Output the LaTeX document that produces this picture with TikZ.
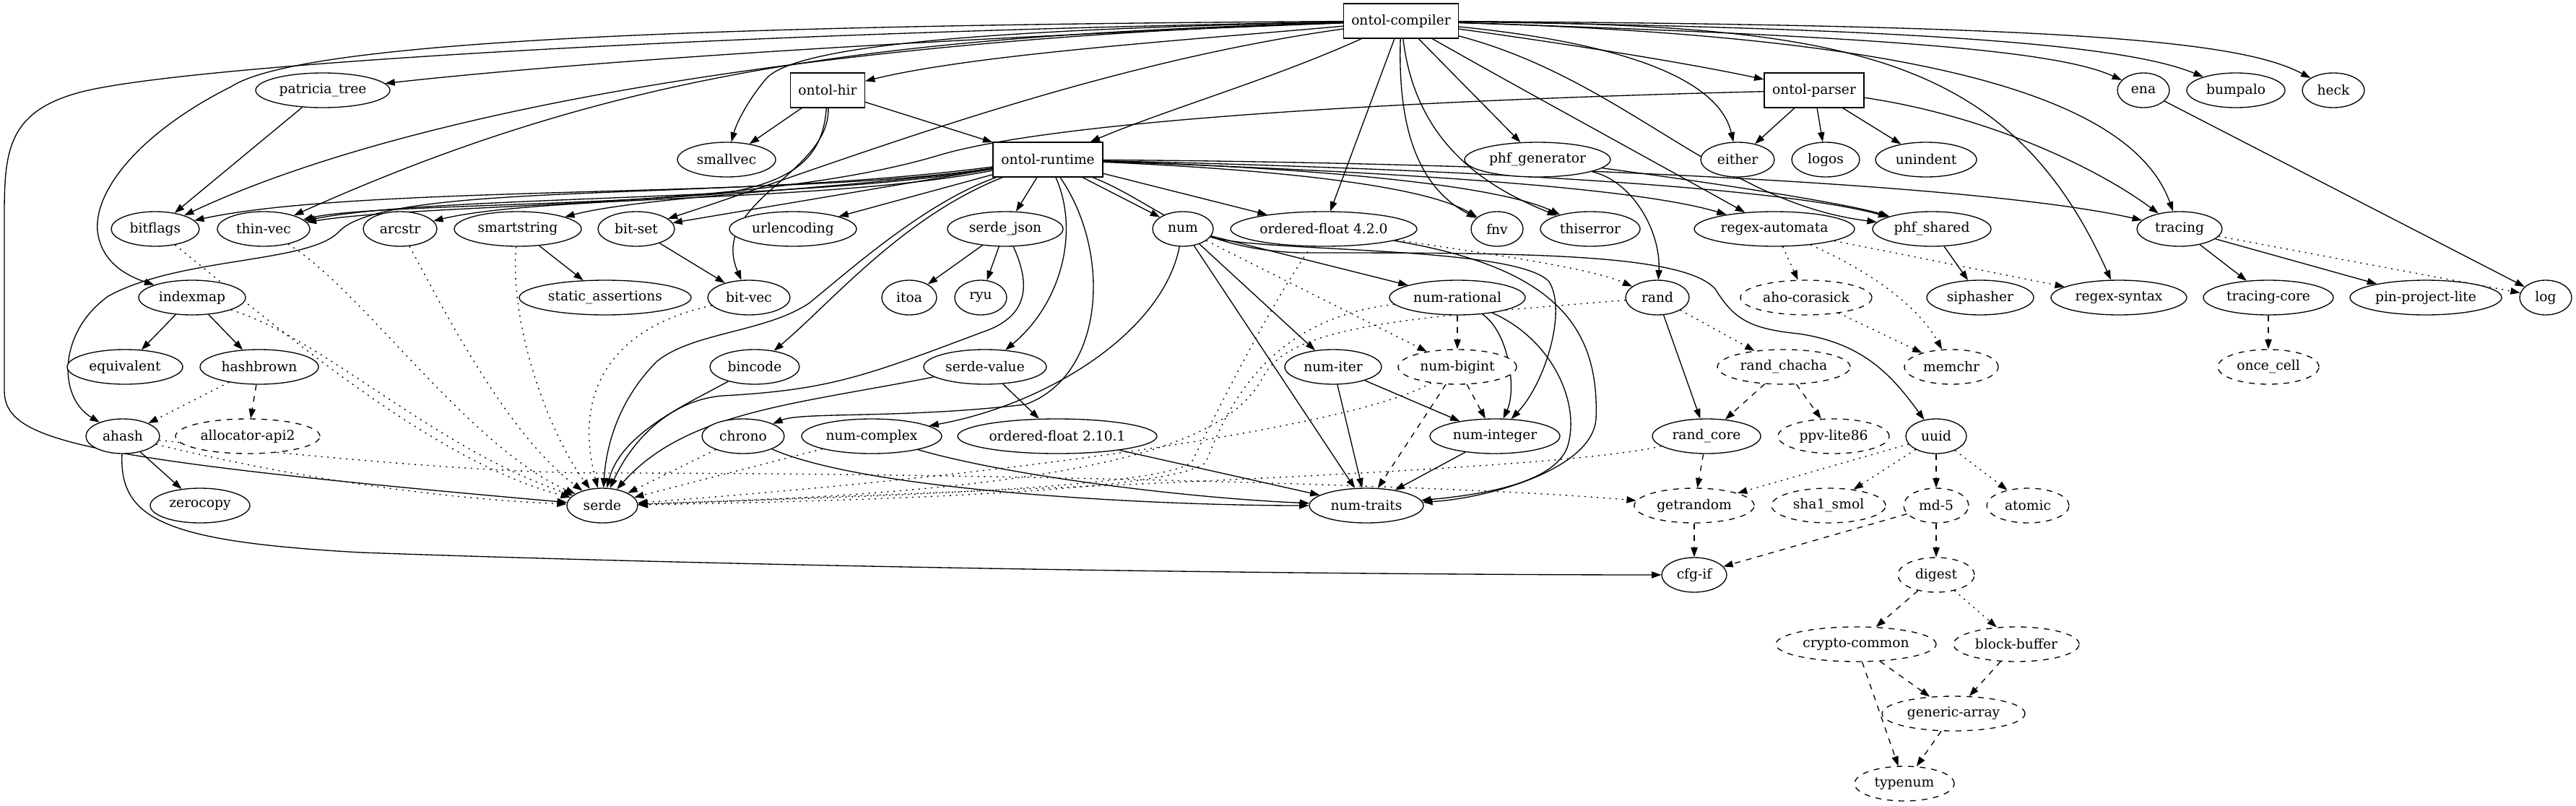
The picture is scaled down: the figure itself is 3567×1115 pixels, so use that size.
\documentclass[tikz,border=0pt]{standalone}
\usepackage{fontspec}
\setmainfont{DejaVu Serif}
\usetikzlibrary{shapes.geometric,arrows.meta}
\pgfdeclarelayer{background}
\pgfsetlayers{background,main}
\begin{document}
\begin{tikzpicture}[x=0.75pt,y=-0.75pt,
  every node/.style={font=\fontsize{14pt}{16pt}\selectfont},
  el/.style={ellipse,draw,fill=white,line width=1pt,minimum height=36pt,inner sep=0pt},
  dn/.style={el,dash pattern=on 6pt off 6pt},
  bx/.style={rectangle,draw,fill=white,line width=1pt,minimum height=36pt,inner sep=0pt},
  wd/.style={minimum width=#1*1.5pt},
  dep/.style={draw,line width=1pt,-{Triangle[length=10pt,width=7pt]}},
  dot/.style={dep,dash pattern=on 1.5pt off 5pt},
  dsh/.style={dep,dash pattern=on 6pt off 6pt},
]
\useasboundingbox (0,0) rectangle (3567,1115);

% rank 0
\node[bx,minimum width=119pt] (compiler) at (1940,29) {ontol-compiler};
% rank 1
\node[el,wd=93] (patricia) at (447,125) {patricia\_tree};
\node[bx,minimum width=77pt] (hir) at (1146,125) {ontol-hir};
\node[bx,minimum width=103.5pt] (parser) at (2512,125) {ontol-parser};
\node[el,wd=36] (ena) at (2968,125) {ena};
\node[el,wd=68] (bumpalo) at (3096,125) {bumpalo};
\node[el,wd=43] (heck) at (3231,125) {heck};
% rank 2
\node[el,wd=68] (smallvec) at (1006,221) {smallvec};
\node[bx,minimum width=114pt] (runtime) at (1451,221) {ontol-runtime};
\node[el,wd=101] (phfgen) at (2129,221) {phf\_generator};
\node[el,wd=51] (either) at (2406,221) {either};
\node[el,wd=47] (logos) at (2528,221) {logos};
\node[el,wd=70] (unindent) at (2667,221) {unindent};
% rank 3
\node[el,wd=61] (bitflags) at (215,317) {bitflags};
\node[el,wd=64] (thinvec) at (365,317) {thin-vec};
\node[el,wd=51] (arcstr) at (554,317) {arcstr};
\node[el,wd=88] (smartstring) at (717,317) {smartstring};
\node[el,wd=53] (bitset) at (881,317) {bit-set};
\node[el,wd=88] (urlencoding) at (1098,317) {urlencoding};
\node[el,wd=80] (serdejson) at (1392,317) {serde\_json};
\node[el,wd=42] (num) at (1638,317) {num};
\node[el,wd=129] (of4) at (1833,317) {ordered-float 4.2.0};
\node[el,wd=36] (fnv) at (2073,317) {fnv};
\node[el,wd=69] (thiserror) at (2202,317) {thiserror};
\node[el,wd=111] (regexaut) at (2457,317) {regex-automata};
\node[el,wd=82] (phfshared) at (2675,317) {phf\_shared};
\node[el,wd=59] (tracing) at (3018,317) {tracing};
% rank 4
\node[el,wd=74] (indexmap) at (266,412) {indexmap};
\node[el,wd=119] (staticassert) at (838,412) {static\_assertions};
\node[el,wd=57] (bitvec) at (1037,412) {bit-vec};
\node[el,wd=38] (itoa) at (1259,412) {itoa};
\node[el,wd=36] (ryu) at (1358,412) {ryu};
\node[el,wd=94] (numrational) at (2018,412) {num-rational};
\node[el,wd=44] (rand) at (2295,412) {rand};
\node[dn,wd=91] (aho) at (2501,412) {aho-corasick};
\node[el,wd=74] (siphasher) at (2742,412) {siphasher};
\node[el,wd=94] (regexsyntax) at (2934,412) {regex-syntax};
\node[el,wd=90] (tracingcore) at (3141,412) {tracing-core};
\node[el,wd=105] (pinproject) at (3359,412) {pin-project-lite};
\node[el,wd=36] (log) at (3525,412) {log};
% rank 5
\node[el,wd=80] (equivalent) at (173,508) {equivalent};
\node[el,wd=82] (hashbrown) at (359,508) {hashbrown};
\node[el,wd=62] (bincode) at (1045,508) {bincode};
\node[el,wd=85] (serdevalue) at (1364,508) {serde-value};
\node[el,wd=67] (numiter) at (1846,508) {num-iter};
\node[dn,wd=82] (numbigint) at (2018,508) {num-bigint};
\node[dn,wd=92] (randchacha) at (2470,508) {rand\_chacha};
\node[dn,wd=65] (memchr) at (2702,508) {memchr};
\node[dn,wd=70] (oncecell) at (3141,508) {once\_cell};
% rank 6
\node[el,wd=51] (ahash) at (170,604) {ahash};
\node[dn,wd=100] (allocator) at (343,604) {allocator-api2};
\node[el,wd=57] (chrono) at (1029,604) {chrono};
\node[el,wd=97] (numcomplex) at (1207,604) {num-complex};
\node[el,wd=138] (of2) at (1464,604) {ordered-float 2.10.1};
\node[el,wd=90] (numinteger) at (2070,604) {num-integer};
\node[el,wd=75] (randcore) at (2363,604) {rand\_core};
\node[dn,wd=77] (ppv) at (2539,604) {ppv-lite86};
\node[el,wd=42] (uuid) at (2681,604) {uuid};
% rank 7
\node[el,wd=69] (zerocopy) at (277,700) {zerocopy};
\node[el,wd=49] (serde) at (834,700) {serde};
\node[el,wd=79] (numtraits) at (1892,700) {num-traits};
\node[dn,wd=83] (getrandom) at (2346,700) {getrandom};
\node[dn,wd=79] (sha1) at (2532,700) {sha1\_smol};
\node[dn,wd=45] (md5) at (2681,700) {md-5};
\node[dn,wd=57] (atomic) at (2808,700) {atomic};
% rank 8
\node[el,wd=45] (cfgif) at (2346,796) {cfg-if};
\node[dn,wd=53] (digest) at (2681,796) {digest};
% rank 9
\node[dn,wd=111] (cryptocommon) at (2570,892) {crypto-common};
\node[dn,wd=87] (blockbuffer) at (2792,892) {block-buffer};
% rank 10
\node[dn,wd=99] (genericarray) at (2705,988) {generic-array};
% rank 11
\node[dn,wd=69] (typenum) at (2637,1085) {typenum};

\begin{pgfonlayer}{background}
\fill[white] (0,0) rectangle (3567,1115);
% ---- ontol-compiler
\draw[dep] (compiler) .. controls (1500,45) and (900,75) .. (patricia);
\draw[dep] (compiler) .. controls (1650,55) and (1350,75) .. (hir);
\draw[dep] (compiler) .. controls (1760,110) and (1620,150) .. (runtime);
\draw[dep] (compiler) .. controls (2200,65) and (2350,90) .. (parser);
\draw[dep] (compiler) .. controls (2600,50) and (2850,70) .. (ena);
\draw[dep] (compiler) .. controls (2700,40) and (2950,65) .. (bumpalo);
\draw[dep] (compiler) .. controls (2850,35) and (3100,55) .. (heck);
\draw[dep] (compiler) .. controls (1400,40) and (1100,60) .. (1060,110) .. controls (1035,140) and (1020,170) .. (smallvec);
\draw[dep] (compiler) .. controls (1100,55) and (550,160) .. (bitflags);
\draw[dep] (compiler) .. controls (1200,50) and (850,100) .. (thinvec);
\draw[dep] (compiler) .. controls (1500,90) and (1150,230) .. (bitset);
\draw[dep] (compiler) .. controls (1000,35) and (420,55) .. (320,120) .. controls (200,180) and (130,260) .. (135,320) .. controls (140,360) and (170,380) .. (indexmap);
\draw[dep] (compiler) .. controls (1000,45) and (250,90) .. (110,128) .. controls (10,155) and (6,210) .. (6,300) -- (6,540) .. controls (6,610) and (100,635) .. (serde);
\draw[dep] (compiler) .. controls (2250,60) and (2380,110) .. (either);
\draw[dep] (compiler) -- (phfgen);
\draw[dep] (compiler) -- (of4);
\draw[dep] (compiler) .. controls (1935,180) and (1965,260) .. (fnv);
\draw[dep] (compiler) .. controls (1960,200) and (2060,260) .. (thiserror);
\draw[dep] (compiler) .. controls (2100,120) and (2320,240) .. (regexaut);
\draw[dep] (compiler) .. controls (2250,110) and (2380,280) .. (phfshared);
\draw[dep] (compiler) .. controls (2550,35) and (2780,70) .. (regexsyntax);
\draw[dep] (compiler) .. controls (2650,50) and (2950,130) .. (tracing);

% ---- ontol-hir
\draw[dep] (hir) -- (smallvec);
\draw[dep] (hir) -- (runtime);
\draw[dep] (hir) .. controls (1140,210) and (1110,250) .. (1000,268) .. controls (800,285) and (500,285) .. (thinvec);
\draw[dep] (hir) .. controls (1150,240) and (980,280) .. (bitvec);

% ---- ontol-parser
\draw[dep] (parser) -- (either);
\draw[dep] (parser) -- (logos);
\draw[dep] (parser) -- (unindent);
\draw[dep] (parser) .. controls (2750,160) and (2900,230) .. (tracing);
\draw[dep] (parser) .. controls (1900,140) and (1450,170) .. (1300,215) .. controls (1050,290) and (600,280) .. (thinvec);

% ---- ontol-runtime
\draw[dep] (runtime) .. controls (1100,275) and (500,255) .. (bitflags);
\draw[dep] (runtime) .. controls (1100,280) and (600,270) .. (thinvec);
\draw[dep] (runtime) .. controls (1150,280) and (750,270) .. (arcstr);
\draw[dep] (runtime) .. controls (1200,260) and (900,270) .. (smartstring);
\draw[dep] (runtime) -- (bitset);
\draw[dep] (runtime) -- (urlencoding);
\draw[dep] (runtime) -- (serdejson);
\draw[dep] (runtime) -- (num);
\draw[dep] (runtime) -- (of4);
\draw[dep] (runtime) .. controls (1700,232) and (1960,250) .. (fnv);
\draw[dep] (runtime) .. controls (1750,230) and (2060,250) .. (thiserror);
\draw[dep] (runtime) .. controls (1850,235) and (2250,255) .. (regexaut);
\draw[dep] (runtime) .. controls (1950,232) and (2450,255) .. (phfshared);
\draw[dep] (runtime) .. controls (2100,225) and (2750,255) .. (tracing);
\draw[dep] (runtime) .. controls (1000,280) and (540,250) .. (470,320) .. controls (430,365) and (250,355) .. (150,410) .. controls (80,460) and (80,550) .. (ahash);
\draw[dep] (runtime) .. controls (1280,280) and (1170,380) .. (1120,420) .. controls (1060,460) and (960,460) .. (910,500) .. controls (860,550) and (840,610) .. (serde);
\draw[dep] (runtime) .. controls (1250,300) and (1150,420) .. (bincode);
\draw[dep] (runtime) .. controls (1495,320) and (1470,420) .. (serdevalue);
\draw[dep] (runtime) .. controls (1540,350) and (1530,520) .. (1420,560) .. controls (1250,580) and (1110,570) .. (chrono);
\draw[dep] (runtime) .. controls (1600,280) and (1650,345) .. (1800,350) .. controls (2100,350) and (2330,350) .. (2375,400) .. controls (2400,440) and (2420,455) .. (2490,462) .. controls (2580,475) and (2620,520) .. (uuid);

% ---- num family
\draw[dep] (num) -- (numrational);
\draw[dep] (num) -- (numiter);
\draw[dep] (num) -- (numtraits);
\draw[dot] (num) -- (numbigint);
\draw[dep] (num) .. controls (1610,460) and (1450,560) .. (numcomplex);
\draw[dep] (num) .. controls (1750,350) and (2100,340) .. (2145,390) .. controls (2170,430) and (2140,530) .. (numinteger);
\draw[dep] (numiter) -- (numinteger);
\draw[dep] (numiter) -- (numtraits);
\draw[dsh] (numbigint) -- (numinteger);
\draw[dsh] (numbigint) -- (numtraits);
\draw[dot] (numbigint) .. controls (1900,580) and (1500,650) .. (serde);
\draw[dep] (numinteger) -- (numtraits);
\draw[dsh] (numrational) -- (numbigint);
\draw[dep] (numrational) .. controls (2090,460) and (2100,540) .. (numinteger);
\draw[dep] (numrational) .. controls (2150,470) and (2190,560) .. (2170,620) .. controls (2150,670) and (2050,685) .. (numtraits);
\draw[dot] (numrational) .. controls (1760,440) and (1700,560) .. (1670,640) .. controls (1620,685) and (1100,695) .. (serde);
\draw[dep] (of4) .. controls (2150,370) and (2215,450) .. (2210,580) .. controls (2205,650) and (2060,690) .. (numtraits);
\draw[dot] (of4) .. controls (1760,420) and (1690,560) .. (1650,640) .. controls (1600,680) and (1100,690) .. (serde);
\draw[dot] (of4) .. controls (2050,350) and (2200,370) .. (rand);
\draw[dep] (of2) -- (numtraits);
\draw[dep] (chrono) .. controls (1200,680) and (1600,700) .. (numtraits);
\draw[dep] (numcomplex) .. controls (1400,660) and (1650,690) .. (numtraits);
\draw[dot] (chrono) -- (serde);
\draw[dot] (numcomplex) -- (serde);
\draw[dep] (serdevalue) -- (of2);

% ---- rand family
\draw[dep] (phfgen) .. controls (2260,250) and (2300,320) .. (rand);
\draw[dep] (phfgen) .. controls (2350,250) and (2550,280) .. (phfshared);
\draw[dep] (rand) -- (randcore);
\draw[dot] (rand) -- (randchacha);
\draw[dot] (rand) .. controls (1950,440) and (1790,450) .. (1750,520) .. controls (1700,620) and (1500,680) .. (serde);
\draw[dsh] (randchacha) -- (randcore);
\draw[dsh] (randchacha) -- (ppv);
\draw[dsh] (randcore) -- (getrandom);
\draw[dot] (randcore) .. controls (2200,640) and (1900,660) .. (serde);
\draw[dsh] (getrandom) -- (cfgif);
\draw[dot] (uuid) -- (getrandom);
\draw[dot] (uuid) -- (sha1);
\draw[dsh] (uuid) -- (md5);
\draw[dot] (uuid) -- (atomic);
\draw[dsh] (md5) -- (cfgif);
\draw[dsh] (md5) -- (digest);
\draw[dsh] (digest) -- (cryptocommon);
\draw[dot] (digest) -- (blockbuffer);
\draw[dsh] (cryptocommon) -- (genericarray);
\draw[dsh] (cryptocommon) -- (typenum);
\draw[dsh] (blockbuffer) -- (genericarray);
\draw[dsh] (genericarray) -- (typenum);

% ---- left side
\draw[dep] (ahash) -- (zerocopy);
\draw[dep] (ahash) .. controls (165,720) and (230,750) .. (500,765) .. controls (1200,790) and (2000,796) .. (cfgif);
\draw[dot] (ahash) .. controls (400,660) and (600,690) .. (serde);
\draw[dot] (ahash) .. controls (500,640) and (700,655) .. (840,655) .. controls (1300,655) and (2000,670) .. (getrandom);
\draw[dot] (hashbrown) -- (ahash);
\draw[dsh] (hashbrown) -- (allocator);
\draw[dep] (indexmap) -- (equivalent);
\draw[dep] (indexmap) -- (hashbrown);
\draw[dot] (indexmap) .. controls (450,470) and (600,620) .. (serde);
\draw[dep] (patricia) -- (bitflags);
\draw[dot] (bitflags) .. controls (380,450) and (600,640) .. (serde);
\draw[dot] (thinvec) .. controls (500,400) and (650,620) .. (serde);
\draw[dot] (arcstr) .. controls (610,420) and (700,600) .. (serde);
\draw[dot] (smartstring) .. controls (705,450) and (760,600) .. (serde);
\draw[dep] (smartstring) -- (staticassert);
\draw[dep] (bitset) -- (bitvec);
\draw[dot] (bitvec) .. controls (860,450) and (790,530) .. (serde);
\draw[dep] (serdejson) -- (itoa);
\draw[dep] (serdejson) -- (ryu);
\draw[dep] (serdejson) .. controls (1430,400) and (1420,440) .. (1360,460) .. controls (1200,520) and (1150,540) .. (1000,548) .. controls (920,555) and (870,620) .. (serde);
\draw[dep] (bincode) .. controls (950,560) and (860,600) .. (serde);
\draw[dep] (serdevalue) .. controls (1100,560) and (950,570) .. (serde);

% ---- regex / tracing
\draw[dot] (regexaut) -- (aho);
\draw[dot] (regexaut) .. controls (2600,380) and (2660,430) .. (memchr);
\draw[dot] (regexaut) -- (regexsyntax);
\draw[dot] (aho) -- (memchr);
\draw[dep] (phfshared) -- (siphasher);
\draw[dep] (tracing) -- (tracingcore);
\draw[dep] (tracing) -- (pinproject);
\draw[dot] (tracing) -- (log);
\draw[dsh] (tracingcore) -- (oncecell);
\draw[dep] (ena) -- (log);
\end{pgfonlayer}
\end{tikzpicture}
\end{document}
